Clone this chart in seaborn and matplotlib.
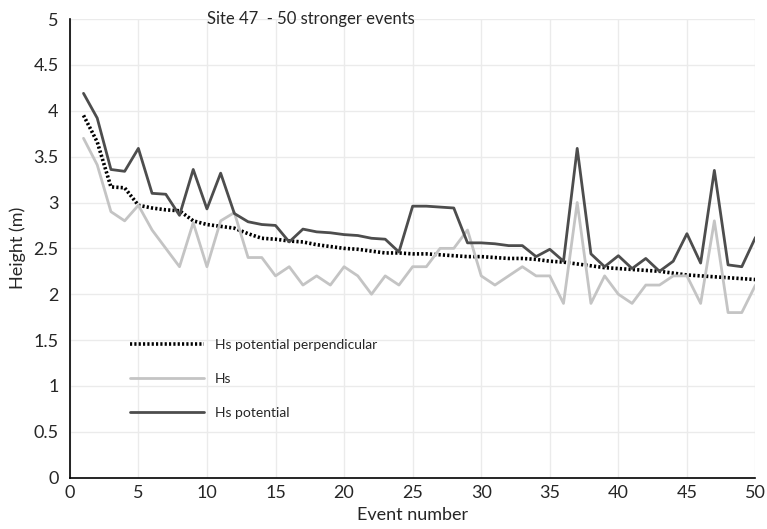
import numpy as np
import pandas as pd
import matplotlib
matplotlib.use("Agg")
import matplotlib.pyplot as plt
import seaborn as sns

# Data: 50 events
events = list(range(1, 51))
hs_potential = [4.19, 3.92, 3.36, 3.34, 3.59, 3.10, 3.09, 2.86, 3.36, 2.93,
                3.32, 2.88, 2.79, 2.76, 2.75, 2.57, 2.71, 2.68, 2.67, 2.65,
                2.64, 2.61, 2.60, 2.46, 2.96, 2.96, 2.95, 2.94, 2.56, 2.56,
                2.55, 2.53, 2.53, 2.41, 2.49, 2.36, 3.59, 2.44, 2.30, 2.42,
                2.28, 2.39, 2.25, 2.36, 2.66, 2.34, 3.35, 2.32, 2.30, 2.62]
hs = [3.70, 3.41, 2.90, 2.80, 2.97, 2.70, 2.50, 2.30, 2.78, 2.30,
      2.80, 2.89, 2.40, 2.40, 2.20, 2.30, 2.10, 2.20, 2.10, 2.30,
      2.20, 2.00, 2.20, 2.10, 2.30, 2.30, 2.50, 2.50, 2.70, 2.20,
      2.10, 2.20, 2.30, 2.20, 2.20, 1.90, 3.00, 1.90, 2.20, 2.00,
      1.90, 2.10, 2.10, 2.20, 2.20, 1.90, 2.80, 1.80, 1.80, 2.10]
hs_perp = [3.95, 3.66, 3.17, 3.16, 2.97, 2.94, 2.92, 2.91, 2.80, 2.76,
           2.74, 2.72, 2.66, 2.61, 2.60, 2.58, 2.57, 2.54, 2.52, 2.50,
           2.49, 2.47, 2.45, 2.45, 2.44, 2.44, 2.43, 2.42, 2.41, 2.41,
           2.40, 2.39, 2.39, 2.38, 2.36, 2.35, 2.33, 2.31, 2.29, 2.28,
           2.27, 2.26, 2.25, 2.23, 2.21, 2.20, 2.19, 2.18, 2.17, 2.16]

df = pd.DataFrame({"Event": events, "Hs potential": hs_potential,
                   "Hs": hs, "Hs potential perpendicular": hs_perp})

sns.set_style("whitegrid")
plt.rcParams["font.family"] = ["Lato", "DejaVu Sans"]

fig, ax = plt.subplots(figsize=(7.67, 5.29), dpi=100)
fig.subplots_adjust(left=0.091, right=0.985, top=0.964, bottom=0.097)

sns.lineplot(data=df, x="Event", y="Hs potential perpendicular", color="black",
             linewidth=2.6, linestyle=(0, (0.6, 0.6)), ax=ax,
             label="Hs potential perpendicular")
sns.lineplot(data=df, x="Event", y="Hs", color="#c4c4c4", linewidth=2,
             ax=ax, label="Hs")
sns.lineplot(data=df, x="Event", y="Hs potential", color="#4d4d4d", linewidth=2,
             ax=ax, label="Hs potential")

ax.set_xlim(0, 50)
ax.set_ylim(0, 5)
ax.set_xticks(range(0, 51, 5))
ax.set_yticks(np.arange(0, 5.01, 0.5))
ax.set_yticklabels(["0", "0.5", "1", "1.5", "2", "2.5", "3", "3.5", "4", "4.5", "5"])
ax.grid(True, color="#ebebeb", linewidth=1)
for s in ["top", "right"]:
    ax.spines[s].set_visible(False)
for s in ["left", "bottom"]:
    ax.spines[s].set_color("black")
    ax.spines[s].set_linewidth(1.2)
ax.tick_params(axis="x", direction="inout", length=7, width=1.2, labelsize=13,
               color="black", pad=2)
ax.tick_params(axis="y", direction="out", length=5, width=1.2, labelsize=13,
               color="black", pad=3)
ax.set_xlabel("Event number", fontsize=13, labelpad=4)
ax.set_ylabel("Height (m)", fontsize=13, labelpad=5)

ax.text(0.2, 1.0, "Site 47  - 50 stronger events", transform=ax.transAxes,
        fontsize=12, ha="left", va="center")

ax.legend(loc="upper left", bbox_to_anchor=(0.07, 0.33), frameon=False,
          fontsize=10, handlelength=5.3, labelspacing=1.6, handletextpad=0.8)

plt.savefig("out.png", dpi=100)
